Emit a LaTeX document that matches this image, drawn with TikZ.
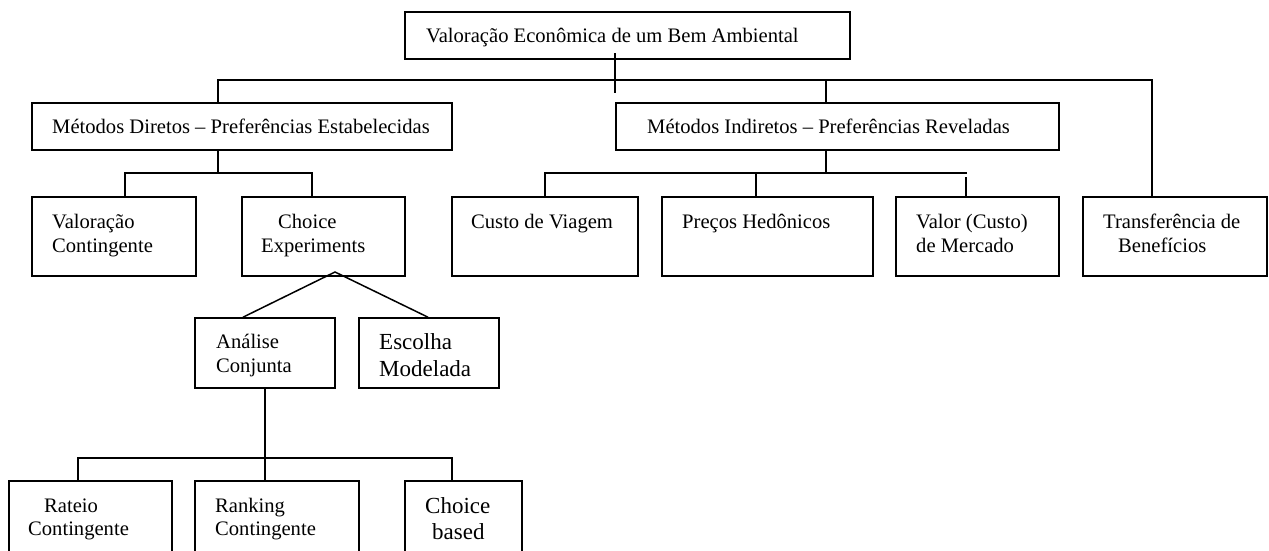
\documentclass[tikz,border=0pt]{standalone}
\usepackage{fontspec}
\setmainfont{Liberation Serif}
\begin{document}
\begin{tikzpicture}[x=1pt,y=-1pt,
  box/.style={draw=black, line width=1.6pt, inner sep=0pt, fill=none},
  txt/.style={anchor=base west, inner sep=0pt, font=\fontsize{20.6}{24}\selectfont},
  big/.style={anchor=base west, inner sep=0pt, font=\fontsize{23}{26}\selectfont},
  con/.style={draw=black, line width=1.5pt}]
\newcommand\bx[5]{\node[box, minimum width={#4pt-#2pt}, minimum height={#5pt-#3pt}] (#1) at ({(#2+#4)/2},{(#3+#5)/2}) {};}
\useasboundingbox (0,0) rectangle (1269,550);
\clip (0,0) rectangle (1269,550);
% boxes
\bx{top}{405}{12}{850}{59}
\bx{dir}{32}{103}{452}{150}
\bx{ind}{616}{103}{1059}{150}
\bx{vc}{32}{197}{196}{276}
\bx{ce}{242}{197}{405}{276}
\bx{custo}{452}{197}{638}{276}
\bx{precos}{662}{197}{873}{276}
\bx{valor}{896}{197}{1059}{276}
\bx{trans}{1083}{197}{1267}{276}
\bx{ana}{195}{318}{335}{388}
\bx{esc}{359}{318}{499}{388}
\bx{rat}{9}{481}{172}{570}
\bx{rank}{195}{481}{359}{570}
\bx{cb}{405}{481}{522}{570}
% texts
\node[txt] (t-top) at (426,42) {Valoração Econômica de um Bem Ambiental};
\node[txt] (t-dir) at (52,133) {Métodos Diretos – Preferências Estabelecidas};
\node[txt] (t-ind) at (647,133) {Métodos Indiretos – Preferências Reveladas};
\node[txt] (t-vc1) at (52,228) {Valoração};
\node[txt] (t-vc2) at (52,252) {Contingente};
\node[txt] (t-ce1) at (278,228) {Choice};
\node[txt] (t-ce2) at (261,252) {Experiments};
\node[txt] (t-cu) at (471,228) {Custo de Viagem};
\node[txt] (t-pr) at (682,228) {Preços Hedônicos};
\node[txt] (t-va1) at (916,228) {Valor (Custo)};
\node[txt] (t-va2) at (916,252) {de Mercado};
\node[txt] (t-tr1) at (1103,228) {Transferência de};
\node[txt] (t-tr2) at (1118,252) {Benefícios};
\node[txt] (t-an1) at (216,348) {Análise};
\node[txt] (t-an2) at (216,372) {Conjunta};
\node[big] (t-es1) at (379,349) {Escolha};
\node[big] (t-es2) at (379,376) {Modelada};
\node[txt] (t-ra1) at (44,512) {Rateio};
\node[txt] (t-ra2) at (28,535) {Contingente};
\node[txt] (t-rk1) at (215,512) {Ranking};
\node[txt] (t-rk2) at (215,535) {Contingente};
\node[big] (t-cb1) at (425,513) {Choice};
\node[big] (t-cb2) at (432,539) {based};
% connectors
\coordinate (s0) at (615,53);
\coordinate (s1) at (615,93);
\draw[con] (s0) -- (s1);
\coordinate (tA) at (218,80);
\coordinate (tB) at (1152,80);
\coordinate (tC) at (826,80);
\draw[con] (tA |- dir.north) -- (tA) -- (tB) -- (tB |- trans.north);
\draw[con] (tC) -- (tC |- ind.north);
\coordinate (dA) at (218,173);
\coordinate (dL) at (125,173);
\coordinate (dR) at (312,173);
\draw[con] (dA |- dir.south) -- (dA);
\draw[con] (dL |- vc.north) -- (dL) -- (dR) -- (dR |- ce.north);
\coordinate (iA) at (826,173);
\coordinate (iL) at (545,173);
\coordinate (iM) at (756,173);
\coordinate (iR) at (967,173);
\coordinate (iR2) at (966,177);
\draw[con] (iA |- ind.south) -- (iA);
\draw[con] (iL |- custo.north) -- (iL) -- (iR);
\draw[con] (iM) -- (iM |- precos.north);
\draw[con] (iR2) -- (iR2 |- valor.north);
\coordinate (apex) at (335,272);
\coordinate (aL) at (243,318);
\coordinate (aR) at (428,318);
\draw[con] (aL |- ana.north) -- (apex) -- (aR |- esc.north);
\coordinate (aC) at (265,458);
\coordinate (aLL) at (78,458);
\coordinate (aRR) at (452,458);
\draw[con] (aC |- ana.south) -- (aC);
\draw[con] (aLL |- rat.north) -- (aLL) -- (aRR) -- (aRR |- cb.north);
\draw[con] (aC) -- (aC |- rank.north);
\end{tikzpicture}
\end{document}
